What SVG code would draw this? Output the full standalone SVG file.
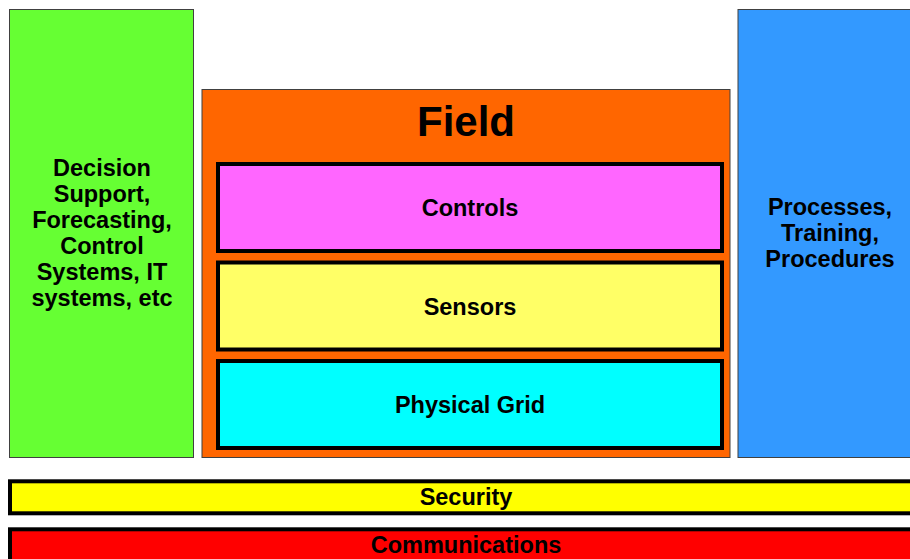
<svg xmlns="http://www.w3.org/2000/svg" width="910" height="559" viewBox="0 0 910 559">
<style>
.col{stroke:#404040;stroke-width:1}
.inner{stroke:#000;stroke-width:4}
.bar{stroke:#000;stroke-width:4}
text{font-family:"Liberation Sans",Arial,sans-serif;font-weight:bold;fill:#000;text-anchor:middle}
.t{font-size:23.5px}
.f{font-size:42px}
</style>
<rect width="910" height="559" fill="#fff"/>
<g id="decision">
<rect class="col" x="9.5" y="9.5" width="184" height="448" fill="#66FF33"/>
<text class="t" x="102" y="176">Decision</text>
<text class="t" x="102" y="202">Support,</text>
<text class="t" x="102" y="228">Forecasting,</text>
<text class="t" x="102" y="254">Control</text>
<text class="t" x="102" y="280">Systems, IT</text>
<text class="t" x="102" y="306">systems, etc</text>
</g>
<g id="field">
<rect class="col" x="202" y="89.5" width="528" height="368" fill="#FF6600"/>
<text class="f" x="466" y="136">Field</text>
</g>
<g id="controls">
<rect class="inner" x="218" y="164" width="504" height="87" fill="#FF66FF"/>
<text class="t" x="470" y="216">Controls</text>
</g>
<g id="sensors">
<rect class="inner" x="218" y="262.5" width="504" height="87" fill="#FFFF66"/>
<text class="t" x="470" y="315">Sensors</text>
</g>
<g id="grid">
<rect class="inner" x="218" y="361" width="504" height="87" fill="#00FFFF"/>
<text class="t" x="470" y="413">Physical Grid</text>
</g>
<g id="processes">
<rect class="col" x="738" y="9.5" width="180" height="448" fill="#3399FF"/>
<text class="t" x="830" y="215">Processes,</text>
<text class="t" x="830" y="241">Training,</text>
<text class="t" x="830" y="267">Procedures</text>
</g>
<g id="security">
<rect class="bar" x="10" y="481.3" width="910" height="32" fill="#FFFF00"/>
<text class="t" x="466" y="505">Security</text>
</g>
<g id="communications">
<rect class="bar" x="10" y="529.3" width="910" height="40" fill="#FF0000"/>
<text class="t" x="466" y="553">Communications</text>
</g>
<g id="connectors"/>
</svg>
